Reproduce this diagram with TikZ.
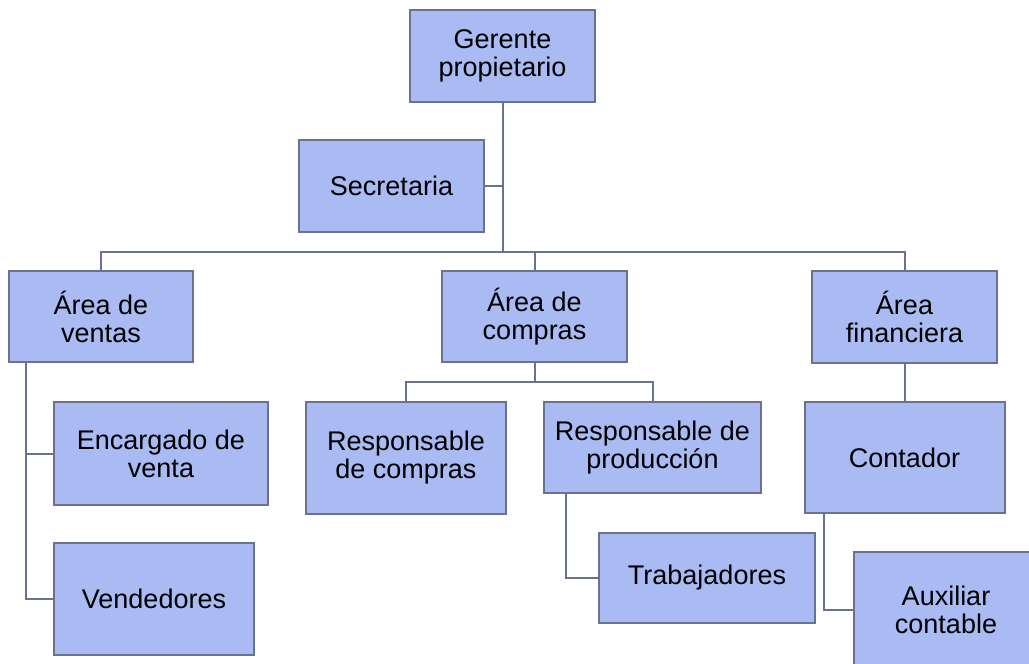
\documentclass[tikz,border=0pt]{standalone}
\usepackage{fontspec}
\setmainfont{Liberation Sans}
\usepackage{tikz}
\usetikzlibrary{positioning,calc}
\definecolor{boxfill}{HTML}{A9BBF2}
\definecolor{boxline}{HTML}{69728F}

\begin{document}
\begin{tikzpicture}[
      x=1pt, y=-1pt,
      % define styles
      unit/.style={
           draw=boxline,
           fill=boxfill,
           line width=2pt,
           align=center,
           inner sep=2pt,
           font=\fontsize{27}{28}\selectfont
      },
      link/.style={
          draw=boxline,
          line width=2pt
      }
  ]
  \useasboundingbox (0,0) rectangle (1029,664);
  \clip (0,0) rectangle (1029,664);
  % Top: owner and secretary
  \node[unit,minimum width=185,minimum height=92] (ger) at (502.5,56) {Gerente\\propietario};
  \node[unit,minimum width=185,minimum height=92] (sec) at (391.5,186) {Secretaria};
  % Areas
  \node[unit,minimum width=184,minimum height=91] (ven) at (101,316.5) {Área de\\ventas};
  \node[unit,minimum width=185,minimum height=91] (com) at (534.5,316.5) {Área de\\compras};
  \node[unit,minimum width=185,minimum height=92] (fin) at (904.5,317) {Área\\financiera};
  % Sales
  \node[unit,minimum width=214,minimum height=103] (enc) at (161,453.5) {Encargado de\\venta};
  \node[unit,minimum width=200,minimum height=112] (vnd) at (154,599) {Vendedores};
  % Purchasing
  \node[unit,minimum width=200,minimum height=112] (rco) at (406,458) {Responsable\\de compras};
  \node[unit,minimum width=217,minimum height=91] (rpr) at (652.5,447.5) {Responsable de\\producción};
  \node[unit,minimum width=216,minimum height=90] (tra) at (707,577.5) {Trabajadores};
  % Finance
  \node[unit,minimum width=200,minimum height=111] (con) at (904.5,457.5) {Contador};
  \node[unit,minimum width=184,minimum height=116] (aux) at (946,610) {Auxiliar\\contable};
  % Bus lines
  \coordinate (bus) at (502.5,252);
  \coordinate (cbus) at (534.5,382);
  \coordinate (vstem) at ([xshift=18pt]ven.south west);
  \coordinate (pstem) at ([xshift=23pt]rpr.south west);
  \coordinate (kstem) at ([xshift=20pt]con.south west);
  % Owner to areas
  \draw[link] (ger) -- (bus);
  \draw[link] (sec) -- (sec -| bus);
  \draw[link] (ven) |- (bus) -| (fin);
  \draw[link] (com) -- (com |- bus);
  % Purchasing branch
  \draw[link] (com) -- (cbus);
  \draw[link] (rco) |- (cbus) -| (rpr);
  \draw[link] (pstem) |- (tra);
  % Sales branch
  \draw[link] (vstem) |- (vnd);
  \draw[link] (enc) -- (enc -| vstem);
  % Finance branch
  \draw[link] (fin) -- (con);
  \draw[link] (kstem) |- (aux);
\end{tikzpicture}
\end{document}
